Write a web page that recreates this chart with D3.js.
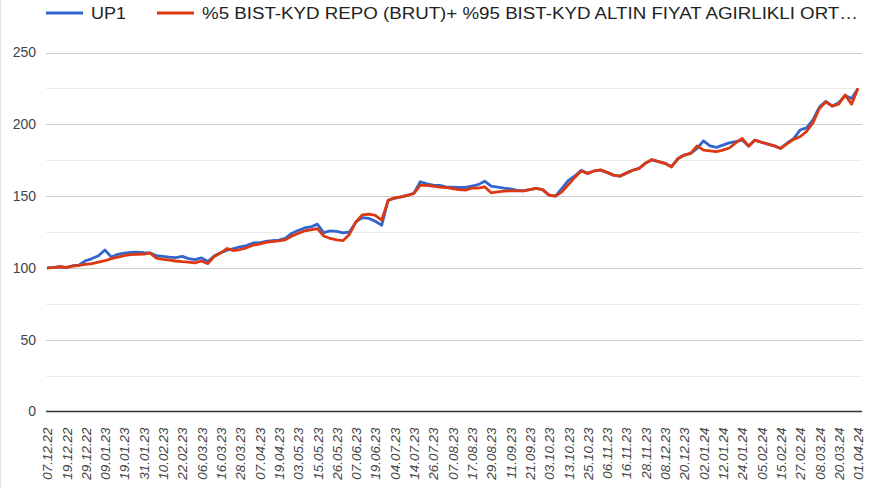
<!DOCTYPE html>
<html>
<head>
<meta charset="utf-8">
<script src="https://cdn.jsdelivr.net/npm/d3@7"></script>
<style>
body{margin:0;background:#fff}
text{font-family:Arial,"Liberation Sans",sans-serif}
</style>
</head>
<body>
<svg id="fundgraph"></svg>
<script>
//tick labels on the x axis, one every 3 points
var dateLabels = ["07.12.22","19.12.22","29.12.22","09.01.23","19.01.23","31.01.23","10.02.23","22.02.23",
  "06.03.23","16.03.23","28.03.23","07.04.23","19.04.23","03.05.23","15.05.23","26.05.23","07.06.23",
  "19.06.23","04.07.23","14.07.23","26.07.23","07.08.23","17.08.23","29.08.23","11.09.23","21.09.23",
  "03.10.23","13.10.23","25.10.23","06.11.23","16.11.23","28.11.23","08.12.23","20.12.23","02.01.24",
  "12.01.24","24.01.24","05.02.24","15.02.24","27.02.24","08.03.24","20.03.24","01.04.24"]

var seriesNames = ["UP1","%5 BIST-KYD REPO (BRUT)+ %95 BIST-KYD ALTIN FIYAT AGIRLIKLI ORT\u2026"]
var seriesColors = ["#3366cc","#dc3912"]

var up1 = [100,100.3,100.8,100.2,101.5,102,105,106.5,108.5,112.5,107.5,109.5,110.3,110.8,111,110.6,
  110.5,108.5,108,107.5,107.2,108,106.5,105.8,107,104.5,108.5,110.5,112.3,113.5,114.6,115.5,117.4,
  117.5,118.5,119,119.3,120.5,124,126,127.8,128.5,130.5,124.5,125.8,125.5,124.4,125,132,135,134.5,
  132.5,129.7,147,148.5,149.4,150.5,152,160,158.5,157.6,157.5,156.4,156.3,156,156,157,158,160.4,157,
  156.2,155.5,155,154,153.7,154.5,155.4,154.5,150.7,150,155.4,161,164,168,165.8,167.5,168.1,166.5,
  164.6,163.9,166,168,169.3,173,175.1,174,172.8,170.4,176,178.6,179.7,183.2,188.5,185,183.9,185.5,
  187.1,188,189,184.8,189,187.5,186.2,185,183.2,187,190,196,197.5,203,212,216,212.7,215,220,218,225]

var bench = [100,100.2,100.8,100.3,101.3,101.8,102.4,103,104,105,106.5,107.5,108.5,109.2,109.5,109.6,
  110.3,106.8,106,105.5,104.8,104.3,104,103.5,104.8,103,108,110.5,113.5,112,112.8,114,115.8,116.5,
  117.8,118.3,118.8,119.5,122,124,125.8,126.5,127.4,122.2,120.5,119.5,119,123.5,132,137,137.5,136.5,
  133.2,147,148.8,149.4,150.5,151.8,157.6,157.5,157,156.2,156,155.2,154.5,154.2,155.5,155.5,156.5,
  152.3,153,153.5,153.7,153.7,153.7,154.5,155.4,154.5,150.7,150,153,158,163,167.5,165.8,167.5,168.3,
  166.5,164.6,163.9,166,168,169.3,173,175.5,174,172.8,170.4,176,178.6,179.7,185,182,181.5,180.9,182,
  183.5,187,190.2,184.8,189,187.5,186.2,185,183.2,186.5,189.5,191.3,195,201,211,215.5,212.7,214,220.5,
  214,225]

var yTicks = [0,50,100,150,200,250]
var yMinorTicks = [25,75,125,175,225]

var screen = {width:873,height:488}
var plot = {left:47,right:858,top:52.5,bottom:411.5}

var svg = d3.select("#fundgraph")
  .attr("width",screen.width)
  .attr("height",screen.height)

svg.append("line")
  .attr("x1",0.5).attr("x2",0.5)
  .attr("y1",0).attr("y2",screen.height)
  .attr("stroke","#e6e6e6")

var xScale = d3.scaleLinear()
  .domain([0,up1.length-1])
  .range([plot.left,plot.right])

var yScale = d3.scaleLinear()
  .domain([0,250])
  .range([plot.bottom,plot.top])

//gridlines
var grid = svg.append("g")
grid.selectAll("line.minor")
  .data(yMinorTicks)
  .enter()
  .append("line")
  .attr("x1",46).attr("x2",862)
  .attr("y1",function(d){return Math.round(yScale(d))+0.5})
  .attr("y2",function(d){return Math.round(yScale(d))+0.5})
  .attr("stroke","#ebebeb")
grid.selectAll("line.major")
  .data(yTicks.slice(1))
  .enter()
  .append("line")
  .attr("x1",46).attr("x2",862)
  .attr("y1",function(d){return Math.round(yScale(d))+0.5})
  .attr("y2",function(d){return Math.round(yScale(d))+0.5})
  .attr("stroke","#cccccc")

//y axis labels
var yAxis = d3.axisLeft(yScale).tickValues(yTicks).tickSize(0).tickPadding(0)
svg.append("g")
  .attr("transform","translate(36,0)")
  .call(yAxis)
  .call(function(g){g.select(".domain").remove()})
  .selectAll("text")
  .attr("fill","#444")
  .style("font-size","14px")
  .style("font-family","Arial,'Liberation Sans',sans-serif")

//lines
var line = d3.line()
  .x(function(d,i){return xScale(i)})
  .y(function(d){return yScale(d)})

var allSeries = [up1,bench]
allSeries.forEach(function(values,k){
  svg.append("path")
    .datum(values)
    .attr("d",line)
    .attr("fill","none")
    .attr("stroke",seriesColors[k])
    .attr("stroke-width",2.8)
    .attr("stroke-linejoin","round")
})

//zero baseline
svg.append("line")
  .attr("x1",46).attr("x2",862)
  .attr("y1",yScale(0)).attr("y2",yScale(0))
  .attr("stroke","#333")
  .attr("stroke-width",1.4)

//x axis labels
var xAxis = d3.axisBottom(xScale)
  .tickValues(d3.range(0,up1.length,3))
  .tickFormat(function(i){return dateLabels[i/3]})
  .tickSize(0)
svg.append("g")
  .attr("transform","translate(0,"+plot.bottom+")")
  .call(xAxis)
  .call(function(g){g.select(".domain").remove()})
  .selectAll("text")
  .attr("transform","rotate(-90)")
  .attr("text-anchor","end")
  .attr("x",-16)
  .attr("y",0)
  .attr("dy","0.35em")
  .attr("fill","#444")
  .style("font-style","italic")
  .style("font-size","13.4px")
  .style("font-family","Arial,'Liberation Sans',sans-serif")

//legend (the reference text is drawn wider than the font, so stretch it)
var legendX = [46,157]
var legendTextWidth = [35,656]
var legend = svg.append("g")
var entries = legend.selectAll("g")
  .data(seriesNames)
  .enter()
  .append("g")
  .attr("transform",function(d,i){return "translate("+legendX[i]+",13)"})
entries.append("line")
  .attr("x1",0).attr("x2",37)
  .attr("y1",0).attr("y2",0)
  .attr("stroke",function(d,i){return seriesColors[i]})
  .attr("stroke-width",3)
entries.append("text")
  .text(function(d){return d})
  .attr("x",45)
  .attr("y",0)
  .attr("dy","0.36em")
  .attr("fill","#222")
  .attr("textLength",function(d,i){return legendTextWidth[i]})
  .attr("lengthAdjust","spacingAndGlyphs")
  .style("font-size","16px")
</script>
</body>
</html>
